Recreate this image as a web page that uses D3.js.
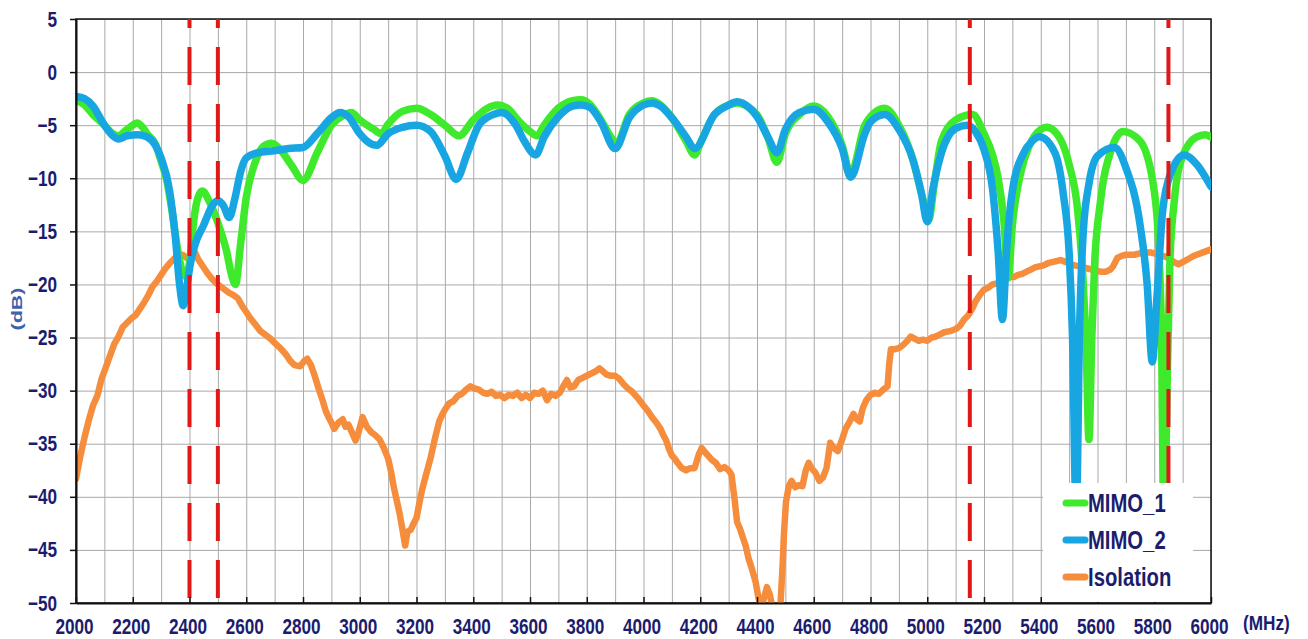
<!DOCTYPE html>
<html>
<head>
<meta charset="utf-8">
<script src="https://cdn.jsdelivr.net/npm/d3@7"></script>
<style>
  body { margin: 0; background: #fff; }
  .label-axis text {
     font-family: 'Liberation Sans', Arial, sans-serif;
     font-weight: bold;
     font-size: 22px;
     fill: #1c1c6e;
  }
  .grid line { stroke: #a9a9a9; stroke-width: 1; }
  .grid .domain { display: none; }
  .legend text {
     font-family: 'Liberation Sans', Arial, sans-serif;
     font-weight: bold;
     font-size: 25px;
     fill: #1c1c6e;
  }
</style>
</head>
<body>
<svg id="chart"></svg>
<script>

/* ~~~~~~~~~ DATA ~~~~~~~~~ */

var mimo1Freq = [2000,2030,2060,2100,2130,2150,2175,2200,2215,2235,2250,2280,2300,2320,2340,2360,2375,2390,2402,2415,2430,2445,2470,2500,2530,2550,2562,2580,2600,2630,2660,2690,2720,2760,2800,2850,2900,2940,2970,3000,3050,3075,3100,3150,3200,3250,3300,3350,3400,3450,3485,3520,3560,3600,3625,3650,3700,3750,3780,3810,3850,3880,3905,3950,4000,4030,4060,4100,4150,4180,4200,4250,4300,4330,4370,4400,4440,4470,4500,4550,4600,4650,4700,4730,4780,4800,4850,4900,4950,4985,5005,5025,5050,5100,5160,5200,5230,5250,5270,5285,5300,5330,5360,5400,5420,5450,5500,5530,5550,5560,5570,5580,5590,5610,5650,5690,5750,5800,5815,5825,5835,5845,5855,5870,5900,5950,5980,6000];
var mimo1Db   = [-2.6,-3.1,-4.0,-5.0,-5.8,-6.0,-5.5,-5.0,-4.8,-5.2,-5.8,-6.8,-8.4,-10.2,-13.4,-17.0,-18.8,-19.3,-17.5,-14.0,-11.8,-11.2,-12.2,-14.2,-16.8,-19.3,-20.0,-16.2,-11.8,-8.6,-7.0,-6.7,-7.3,-8.8,-10.2,-7.6,-5.0,-4.1,-3.8,-4.5,-5.4,-5.8,-4.9,-3.7,-3.4,-4.0,-5.0,-6.0,-4.5,-3.4,-3.1,-3.4,-4.6,-5.6,-6.0,-5.0,-3.4,-2.7,-2.6,-3.0,-4.5,-5.9,-6.7,-4.0,-2.9,-2.7,-3.1,-4.3,-6.5,-7.8,-6.7,-4.0,-3.1,-2.9,-3.3,-4.0,-6.3,-8.5,-5.8,-4.0,-3.2,-4.2,-6.9,-9.6,-5.0,-4.2,-3.4,-5.0,-8.3,-12.0,-13.9,-10.5,-6.5,-4.5,-4.0,-5.8,-7.8,-10.0,-14.0,-19.4,-14.4,-9.4,-6.9,-5.4,-5.2,-5.6,-8.7,-13.0,-20.0,-26.0,-34.6,-25.0,-18.0,-12.3,-7.2,-5.6,-6.5,-11.2,-16.0,-24.0,-45.0,-30.0,-18.0,-12.3,-7.9,-6.1,-5.9,-6.1];

var mimo2Freq = [2000,2030,2060,2100,2130,2150,2180,2220,2250,2280,2300,2330,2350,2365,2378,2390,2402,2420,2450,2480,2500,2520,2540,2560,2580,2600,2640,2700,2750,2800,2850,2900,2930,2960,3000,3030,3060,3100,3150,3200,3250,3300,3340,3380,3420,3470,3500,3550,3580,3620,3650,3700,3750,3780,3810,3850,3900,3950,4000,4030,4060,4100,4150,4180,4250,4300,4330,4370,4400,4440,4470,4500,4550,4600,4650,4700,4730,4780,4800,4850,4900,4950,4980,5000,5020,5050,5100,5140,5170,5200,5230,5250,5265,5280,5300,5340,5370,5395,5450,5480,5500,5512,5525,5537,5550,5570,5600,5660,5700,5750,5775,5793,5810,5830,5860,5905,5950,6000];
var mimo2Db   = [-2.3,-2.5,-3.2,-5.0,-6.0,-6.3,-6.0,-5.9,-6.1,-6.9,-8.1,-11.2,-15.5,-20.0,-22.0,-20.3,-18.2,-16.2,-14.4,-12.6,-12.1,-12.6,-13.7,-11.9,-9.4,-8.1,-7.6,-7.4,-7.2,-7.1,-5.8,-4.3,-3.8,-4.2,-5.8,-6.6,-6.9,-5.8,-5.2,-5.0,-5.6,-7.9,-10.1,-7.6,-5.0,-4.0,-3.8,-5.0,-6.5,-7.8,-6.1,-4.2,-3.2,-3.1,-3.3,-4.7,-7.2,-4.3,-3.1,-2.9,-3.2,-4.3,-6.1,-7.2,-4.0,-3.1,-2.8,-3.3,-4.2,-6.2,-7.6,-5.4,-3.8,-3.5,-4.7,-7.2,-9.9,-5.8,-4.7,-4.0,-5.4,-8.3,-11.5,-14.1,-11.0,-7.6,-5.3,-5.0,-5.6,-7.3,-11.0,-17.0,-23.3,-16.6,-11.2,-7.6,-6.5,-6.1,-7.6,-11.6,-17.0,-25.0,-42.0,-24.0,-15.0,-10.5,-7.9,-7.1,-9.0,-14.4,-20.0,-27.3,-21.0,-13.0,-9.4,-7.8,-8.7,-10.8];

var isoFreq = [2000,2015,2030,2045,2060,2075,2090,2105,2120,2135,2150,2165,2180,2195,2210,2225,2240,2255,2270,2285,2300,2315,2330,2345,2360,2375,2390,2405,2418,2430,2450,2465,2480,2495,2510,2525,2540,2555,2570,2585,2600,2615,2630,2650,2670,2685,2700,2720,2740,2755,2770,2790,2805,2815,2828,2840,2855,2870,2880,2890,2900,2910,2925,2940,2950,2960,2972,2985,2995,3010,3025,3040,3055,3070,3085,3100,3110,3120,3130,3140,3150,3160,3168,3180,3190,3200,3210,3220,3235,3250,3265,3280,3290,3300,3315,3330,3345,3360,3375,3390,3405,3420,3435,3450,3465,3480,3495,3510,3525,3540,3555,3570,3585,3600,3615,3630,3645,3660,3675,3690,3705,3715,3730,3742,3755,3770,3785,3800,3815,3830,3845,3858,3870,3885,3900,3915,3930,3945,3960,3980,4000,4015,4030,4045,4060,4070,4080,4090,4100,4110,4120,4135,4150,4165,4180,4195,4205,4220,4240,4255,4270,4285,4300,4310,4320,4330,4340,4350,4360,4370,4380,4395,4405,4415,4425,4435,4445,4455,4470,4482,4490,4495,4502,4512,4522,4535,4548,4560,4572,4582,4592,4605,4620,4632,4645,4658,4670,4685,4700,4712,4725,4740,4752,4762,4772,4785,4800,4815,4830,4845,4860,4866,4872,4885,4900,4915,4930,4942,4955,4970,4985,5000,5015,5030,5045,5060,5080,5100,5115,5130,5145,5160,5170,5185,5200,5215,5230,5245,5260,5275,5290,5305,5320,5335,5350,5365,5380,5395,5410,5425,5440,5455,5470,5490,5505,5520,5535,5550,5565,5580,5595,5610,5630,5645,5655,5670,5685,5700,5730,5760,5790,5820,5850,5870,5885,5900,5920,5940,5970,6000];
var isoDb   = [-38.3,-36.2,-34.4,-32.8,-31.4,-30.5,-28.9,-27.8,-26.7,-25.6,-24.9,-24.0,-23.6,-23.2,-22.9,-22.3,-21.7,-21.0,-20.2,-19.7,-19.1,-18.5,-18.0,-17.6,-17.3,-17.2,-17.5,-17.3,-16.9,-17.6,-18.4,-19.0,-19.5,-19.9,-20.2,-20.5,-20.8,-21.0,-21.3,-22.0,-22.6,-23.2,-23.7,-24.4,-24.8,-25.1,-25.5,-26.0,-26.6,-27.2,-27.6,-27.7,-27.2,-27.0,-27.6,-28.5,-29.8,-31.0,-31.9,-32.5,-33.0,-33.6,-33.0,-32.7,-33.4,-33.2,-33.9,-34.7,-34.0,-32.5,-33.4,-33.9,-34.2,-34.6,-35.4,-36.4,-37.6,-39.1,-40.3,-41.5,-43.0,-44.6,-43.3,-43.1,-42.5,-42.0,-40.6,-39.3,-37.8,-36.3,-34.5,-32.9,-32.3,-31.8,-31.2,-31.0,-30.5,-30.3,-29.9,-29.6,-29.8,-29.9,-30.2,-30.3,-30.1,-30.5,-30.4,-30.7,-30.4,-30.5,-30.2,-30.7,-30.4,-30.7,-30.2,-30.3,-30.0,-30.9,-30.3,-30.5,-30.2,-29.7,-29.0,-29.7,-29.6,-29.0,-28.8,-28.6,-28.4,-28.2,-27.9,-28.2,-28.5,-28.6,-28.6,-28.9,-29.4,-29.8,-30.1,-30.7,-31.4,-31.9,-32.5,-33.0,-33.6,-34.2,-34.7,-35.5,-36.1,-36.4,-36.8,-37.3,-37.5,-37.3,-37.3,-36.0,-35.4,-35.9,-36.5,-36.8,-37.4,-37.2,-37.5,-37.9,-40.0,-42.4,-43.0,-43.8,-44.6,-45.8,-46.6,-48.0,-49.5,-50.5,-49.5,-48.5,-49.2,-50.5,-51.0,-50.5,-46.6,-43.5,-40.5,-39.0,-38.5,-39.1,-38.9,-39.0,-37.5,-36.8,-37.3,-37.7,-38.5,-38.2,-37.3,-34.9,-35.4,-35.7,-34.6,-33.6,-33.0,-32.2,-32.7,-32.9,-31.7,-30.9,-30.4,-30.2,-30.3,-29.9,-29.6,-27.5,-26.1,-26.1,-26.0,-25.7,-25.3,-24.9,-25.1,-25.3,-25.2,-25.3,-25.0,-24.9,-24.7,-24.5,-24.4,-24.2,-23.9,-23.3,-22.9,-22.2,-21.6,-21.0,-20.5,-20.3,-20.0,-19.9,-19.7,-19.5,-19.3,-19.3,-19.1,-19.0,-18.8,-18.6,-18.4,-18.3,-18.2,-18.0,-17.9,-17.8,-17.7,-17.9,-18.1,-18.2,-18.3,-18.4,-18.5,-18.6,-18.7,-18.8,-18.8,-18.6,-18.3,-17.5,-17.3,-17.2,-17.2,-17.0,-17.0,-17.2,-17.5,-17.9,-18.1,-17.9,-17.6,-17.3,-17.0,-16.7];

// band edges marked with red dashed lines
var markerFreqs = [2400, 2500, 5150, 5850];

var xLabelTicks = d3.range(2000, 6001, 200);
var xGridTicks  = d3.range(2000, 6001, 100);
var yTicks      = d3.range(-50, 6, 5);

var seriesNames = ["MIMO_1", "MIMO_2", "Isolation"];


/* ~~~~~~~~~ SVG SETUP ~~~~~~~~~ */
var svgWidth = 1308, svgHeight = 639;
var margin = { top: 19, right: 97, bottom: 36, left: 76 };
var chartWidth = svgWidth - margin.left - margin.right,
    chartHeight = svgHeight - margin.top - margin.bottom;

var colors = { mimo1: "#3fea2c", mimo2: "#17a6e2", iso: "#f58d3d", marker: "#e01818" };

var svg = d3.select("#chart").attr("width", svgWidth).attr("height", svgHeight)
   .style("background", "#fff");

// the original font is a condensed bold face : squeeze the text horizontally
function squeeze(selection, factor) {
   selection.each(function(){
      var w = this.getComputedTextLength();
      d3.select(this).attr("textLength", w * factor).attr("lengthAdjust", "spacingAndGlyphs");
   });
}

var chartgroup = svg.append("g").attr("transform", "translate(" + margin.left + "," + margin.top + ")");

var x_scale = d3.scaleLinear().domain([2000, 6000]).range([0, chartWidth]);
var y_scale = d3.scaleLinear().domain([-50, 5]).range([chartHeight, 0]);

// grid lines (no labels)
chartgroup.append("g").attr("class", "grid")
   .attr("transform", "translate(0," + chartHeight + ")")
   .call(d3.axisBottom(x_scale).tickValues(xGridTicks).tickSize(-chartHeight).tickFormat(""));
chartgroup.append("g").attr("class", "grid")
   .call(d3.axisLeft(y_scale).tickValues(yTicks).tickSize(-chartWidth).tickFormat(""));

// frame : top and right border
chartgroup.append("rect")
   .attr("x", 0).attr("y", 0).attr("width", chartWidth).attr("height", chartHeight)
   .attr("fill", "none").attr("stroke", "#111").attr("stroke-width", 1.5);

// clip the curves to the plot area
svg.append("defs").append("clipPath").attr("id", "plotclip")
   .append("rect").attr("x", 0).attr("y", 0).attr("width", chartWidth).attr("height", chartHeight);

var plot = chartgroup.append("g").attr("clip-path", "url(#plotclip)");

var smoothLine = d3.line()
   .x(function(d){ return x_scale(d[0]); })
   .y(function(d){ return y_scale(d[1]); })
   .curve(d3.curveMonotoneX);
var rawLine = d3.line()
   .x(function(d){ return x_scale(d[0]); })
   .y(function(d){ return y_scale(d[1]); });

// isolation first, then the two MIMO curves on top
plot.append("path").datum(d3.zip(isoFreq, isoDb))
   .attr("d", rawLine).attr("fill", "none")
   .attr("stroke", colors.iso).attr("stroke-width", 6.5)
   .attr("stroke-linejoin", "round").attr("stroke-linecap", "round");
plot.append("path").datum(d3.zip(mimo1Freq, mimo1Db))
   .attr("d", smoothLine).attr("fill", "none")
   .attr("stroke", colors.mimo1).attr("stroke-width", 7.5)
   .attr("stroke-linejoin", "round").attr("stroke-linecap", "round");
plot.append("path").datum(d3.zip(mimo2Freq, mimo2Db))
   .attr("d", smoothLine).attr("fill", "none")
   .attr("stroke", colors.mimo2).attr("stroke-width", 7.5)
   .attr("stroke-linejoin", "round").attr("stroke-linecap", "round");

// red dashed band markers
plot.selectAll("line.marker")
   .data(markerFreqs)
   .enter()
   .append("line")
   .attr("class", "marker")
   .attr("x1", function(d){ return x_scale(d); })
   .attr("x2", function(d){ return x_scale(d); })
   .attr("y1", 0).attr("y2", chartHeight)
   .attr("stroke", colors.marker).attr("stroke-width", 4)
   .attr("stroke-dasharray", "38,19").attr("stroke-dashoffset", 29);

/* ~~~~~~~~~ labelled axes ~~~~~~~~~ */
var xAxis = chartgroup.append("g").attr("class", "label-axis")
   .attr("transform", "translate(0," + chartHeight + ")")
   .call(d3.axisBottom(x_scale).tickValues(xLabelTicks).tickFormat(d3.format("d"))
         .tickSizeInner(-6).tickSizeOuter(0).tickPadding(15));
xAxis.select(".domain").attr("stroke", "#111").attr("stroke-width", 2);
xAxis.selectAll(".tick line").attr("stroke", "#111").attr("stroke-width", 1.5);
xAxis.selectAll(".tick text").attr("dx", -2).call(squeeze, 0.78);

var yAxis = chartgroup.append("g").attr("class", "label-axis")
   .call(d3.axisLeft(y_scale).tickValues(yTicks).tickSizeInner(6).tickSizeOuter(0).tickPadding(13));
yAxis.select(".domain").attr("stroke", "#111").attr("stroke-width", 2);
yAxis.selectAll(".tick line").attr("stroke", "#111").attr("stroke-width", 1.5);
yAxis.selectAll(".tick text").call(squeeze, 0.78);

// unit labels
svg.append("text")
   .attr("x", 1243).attr("y", 630)
   .style("font-family", "'Liberation Sans', Arial, sans-serif")
   .style("font-weight", "bold").style("font-size", "20px").style("fill", "#1c1c6e")
   .text("(MHz)")
   .call(squeeze, 0.86);

svg.append("text")
   .attr("transform", "translate(22,309) rotate(-90)")
   .attr("text-anchor", "middle")
   .style("font-family", "'Liberation Sans', Arial, sans-serif")
   .style("font-weight", "bold").style("font-size", "14px").style("fill", "#3f62ad")
   .attr("textLength", 43).attr("lengthAdjust", "spacingAndGlyphs")
   .text("(dB)");

/* ~~~~~~~~~ legend ~~~~~~~~~ */
var legendColors = [colors.mimo1, colors.mimo2, colors.iso];
var legend = svg.append("g").attr("class", "legend").attr("transform", "translate(1043,483)");

legend.append("rect").attr("x", 0).attr("y", 0).attr("width", 150).attr("height", 119).attr("fill", "#fff");

var rows = legend.selectAll("g.row")
   .data(seriesNames)
   .enter()
   .append("g")
   .attr("class", "row")
   .attr("transform", function(d, i){ return "translate(0," + (20 + i * 37) + ")"; });

rows.append("line")
   .attr("x1", 23).attr("x2", 42).attr("y1", 0).attr("y2", 0)
   .attr("stroke", function(d, i){ return legendColors[i]; })
   .attr("stroke-width", 7).attr("stroke-linecap", "round");

rows.append("text")
   .attr("x", 45).attr("y", 0).attr("dy", "0.36em")
   .text(function(d){ return d; })
   .call(squeeze, 0.81);

</script>
</body>
</html>
